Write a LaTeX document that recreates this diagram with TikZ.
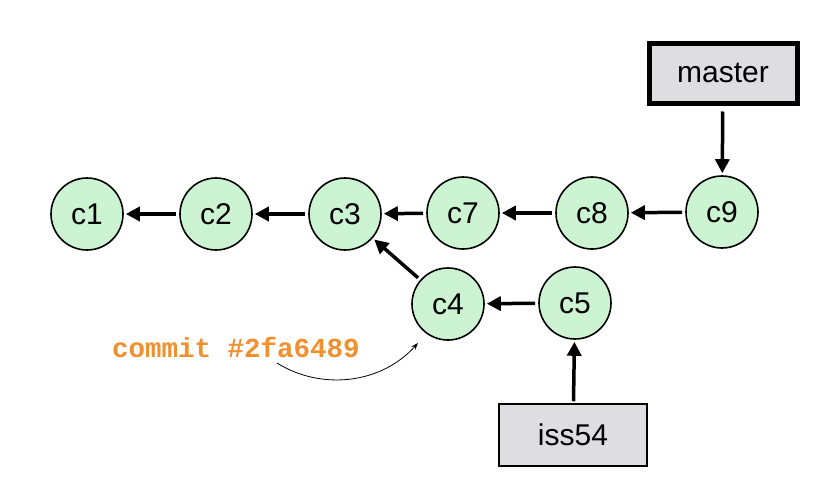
\documentclass[tikz,border=0pt]{standalone}
\usepackage{fontspec}
\setmainfont{Liberation Sans}
\newfontfamily\codefont{Liberation Mono}
\usetikzlibrary{arrows.meta}
\definecolor{commitgreen}{HTML}{CCF4D3}
\definecolor{refgray}{HTML}{DEDEE0}
\definecolor{notecolor}{HTML}{F0902E}
\tikzset{
  commit/.style={circle, draw=black, line width=1.6pt, fill=commitgreen, minimum size=72pt, inner sep=0pt, font=\fontsize{30}{34}\selectfont},
  refbox/.style={draw=black, fill=refgray, minimum width=148pt, minimum height=62pt, inner sep=0pt, font=\fontsize{30}{34}\selectfont},
  parent/.style={-{Triangle[length=14pt,width=14pt]}, line width=3.5pt, shorten >=2pt, shorten <=3pt},
}
\begin{document}
\begin{tikzpicture}[x=1pt,y=-1pt]
\useasboundingbox[fill=white] (0,0) rectangle (838,498);
\node[commit] (c1) at (87,214) {c1};
\node[commit] (c2) at (216,214) {c2};
\node[commit] (c3) at (345,214) {c3};
\node[commit] (c7) at (463,213) {c7};
\node[commit] (c8) at (592,213) {c8};
\node[commit] (c9) at (722,212) {c9};
\node[commit] (c4) at (448,304) {c4};
\node[commit] (c5) at (575,303) {c5};
\node[refbox, line width=5pt, minimum width=148pt, minimum height=60pt] (master) at (723,73) {master};
\node[refbox, line width=1.5pt] (iss54) at (573,435) {iss54};
\node[font=\codefont\bfseries\fontsize{27.5}{30}\selectfont, text=notecolor, anchor=base west, inner sep=0pt] (note) at (112,357) {commit \#2fa6489};
\coordinate (notestart) at (277,363);
\draw[parent] (c2) -- (c1);
\draw[parent] (c3) -- (c2);
\draw[parent] (c7) -- (c3);
\draw[parent] (c8) -- (c7);
\draw[parent] (c9) -- (c8);
\draw[parent] (c4) -- (c3);
\draw[parent] (c5) -- (c4);
\draw[parent, shorten <=6pt] (master) -- (c9);
\draw[parent, shorten <=2pt] (iss54) -- (c5);
\draw[-{Stealth[length=7pt,width=5pt]}, line width=0.8pt] (notestart) .. controls (320,390) and (380,385) .. (418,343);
\end{tikzpicture}
\end{document}
